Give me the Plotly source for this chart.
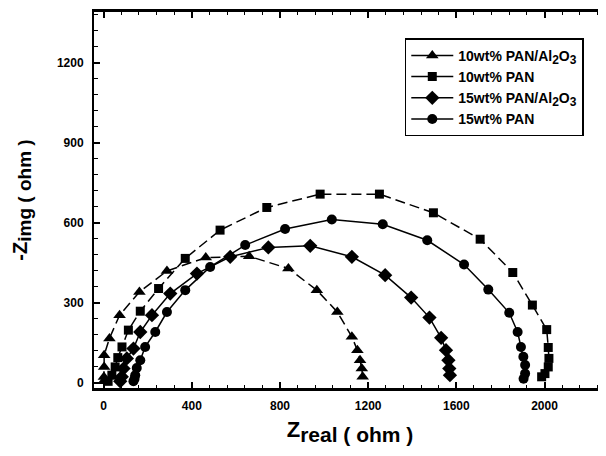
import plotly.graph_objects as go

# ---- data ----
sub2 = "<sub><span style='font-size:12px'>2</span></sub>"
sub3 = "<sub><span style='font-size:12px'>3</span></sub>"
names = ["10wt% PAN/Al" + sub2 + "O" + sub3, "10wt% PAN",
         "15wt% PAN/Al" + sub2 + "O" + sub3, "15wt% PAN"]

x_pan10_al = [0, 1, 2, 2, 26, 72, 162, 287, 463, 660, 838, 967, 1060, 1126, 1151, 1163, 1171, 1175]
y_pan10_al = [5, 21, 59, 103, 166, 253, 340, 419, 469, 474, 428, 347, 265, 172, 122, 84, 53, 22]

x_pan10 = [20, 37, 52, 64, 83, 112, 166, 249, 370, 528, 740, 982, 1251, 1496, 1708, 1856, 1945,
           2010, 2017, 2020, 2017, 2002, 1987]
y_pan10 = [5, 28, 59, 94, 134, 197, 268, 353, 466, 572, 657, 707, 707, 637, 538, 413, 291,
           199, 132, 91, 59, 34, 22]

x_pan15_al = [75, 82, 90, 105, 135, 166, 219, 302, 423, 574, 747, 937, 1126, 1277, 1395, 1478,
              1531, 1553, 1564, 1568, 1571]
y_pan15_al = [5, 22, 53, 91, 128, 190, 253, 334, 409, 472, 507, 513, 472, 403, 319, 244,
              168, 122, 84, 53, 28]

x_pan15 = [135, 140, 143, 150, 166, 188, 234, 287, 370, 483, 642, 823, 1035, 1266, 1468, 1635,
           1745, 1840, 1878, 1893, 1904, 1912, 1912, 1905]
y_pan15 = [5, 15, 28, 55, 84, 134, 190, 265, 347, 434, 516, 576, 612, 594, 534, 443,
           349, 262, 190, 134, 97, 66, 34, 15]

x_ticks = [0, 400, 800, 1200, 1600, 2000]
y_ticks = [0, 300, 600, 900, 1200]

series = [
    (x_pan10_al, y_pan10_al, "triangle-up", "10px,5px", 11),
    (x_pan10, y_pan10, "square", "10px,5px", 9),
    (x_pan15_al, y_pan15_al, "diamond", "solid", 11),
    (x_pan15, y_pan15, "circle", "solid", 10),
]

FONT = "Liberation Sans, Arial, Helvetica, sans-serif"

fig = go.Figure()
for i, (name, (xs, ys, sym, dash, ms)) in enumerate(zip(names, series)):
    fig.add_trace(go.Scatter(
        x=xs, y=ys, name=name, mode="lines+markers", showlegend=False,
        legendgroup=f"g{i}",
        line=dict(color="black", width=1.5, dash=dash),
        marker=dict(symbol=sym, size=ms, color="black"),
    ))
    # legend key (the reference draws every key with a solid line)
    fig.add_trace(go.Scatter(
        x=[None], y=[None], name=name, mode="lines+markers", legendgroup=f"g{i}",
        line=dict(color="black", width=1.5),
        marker=dict(symbol=sym, size=ms, color="black"),
    ))

axis_common = dict(
    showgrid=False, zeroline=False, showline=True, linecolor="black",
    ticks="inside", tickcolor="black", ticklen=6, tickwidth=1.5,
    tickfont=dict(family=FONT, size=12, color="black", weight="bold"),
    automargin=False,
)

fig.update_xaxes(
    **axis_common, linewidth=2.5, range=[-44, 2279], tickvals=x_ticks,
    mirror="ticks",
    minor=dict(dtick=80, ticks="inside", ticklen=3.5, tickcolor="black", tickwidth=1),
    ticklabelstandoff=5,
    title=dict(text="Z<sub><span style='font-size:21px'>real ( ohm )</span></sub>",
               font=dict(family=FONT, size=22, color="black", weight="bold"), standoff=10),
)
fig.update_yaxes(
    **axis_common, linewidth=2, range=[-20, 1390], tickvals=y_ticks,
    minor=dict(dtick=60, ticks="inside", ticklen=3.5, tickcolor="black", tickwidth=1),
    ticklabelstandoff=6,
    title=dict(text="-Z<sub><span style='font-size:19px'>img ( ohm )</span></sub>",
               font=dict(family=FONT, size=20, color="black", weight="bold"), standoff=24),
)

# the page adds an 8px body margin, so the figure is 8px smaller than the window
fig.update_layout(
    width=598, height=448,
    margin=dict(l=86, r=0, t=4, b=68, autoexpand=False),
    paper_bgcolor="white", plot_bgcolor="white",
    showlegend=True,
    legend=dict(x=0.607, y=0.93, xanchor="left", yanchor="top",
                bgcolor="white", bordercolor="black", borderwidth=1.5,
                font=dict(family=FONT, size=14, color="black", weight="bold"),
                tracegroupgap=0, itemwidth=42),
)

fig.write_html("out.html")
